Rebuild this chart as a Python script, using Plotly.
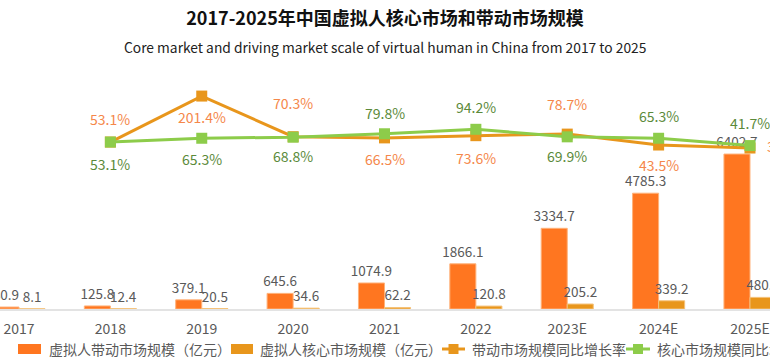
import plotly.graph_objects as go

# ---------------- data ----------------
categories = ["2017", "2018", "2019", "2020", "2021", "2022", "2023E", "2024E", "2025E"]
driving_market = [80.9, 125.8, 379.1, 645.6, 1074.9, 1866.1, 3334.7, 4785.3, 6402.7]
core_market = [8.1, 12.4, 20.5, 34.6, 62.2, 120.8, 205.2, 339.2, 480.6]
rate_categories = ["2018", "2019", "2020", "2021", "2022", "2023E", "2024E", "2025E"]
driving_growth = [53.1, 201.4, 70.3, 66.5, 73.6, 78.7, 43.5, 33.8]
core_growth = [53.1, 65.3, 68.8, 79.8, 94.2, 69.9, 65.3, 41.7]

series_names = ["虚拟人带动市场规模（亿元）", "虚拟人核心市场规模（亿元）",
                "带动市场规模同比增长率", "核心市场规模同比增长率"]
title_text = "2017-2025年中国虚拟人核心市场和带动市场规模"
subtitle_text = "Core market and driving market scale of virtual human in China from 2017 to 2025"

# label placement (pixel shifts) for growth-rate labels
driving_label_shift = [23, -21, 34, -21, -22, 30, -20, 0]
core_label_shift = [-22, -21, -19, 21, 22, -19, 22, 23]

# ---------------- style ----------------
FONT = "Noto Sans CJK SC"
C_DRIVE = "#FF7620"
C_CORE = "#E8961C"
C_LINE_O = "#E8961C"
C_LINE_G = "#8DCC4A"
C_LBL_O = "#F5874A"
C_LBL_G = "#5B8A3A"
C_TXT = "#595959"

W, H = 770, 360
ML, MR, MT, MB = 0, 0, 70, 51
plot_h = H - MT - MB

fig = go.Figure()

fig.add_trace(go.Bar(
    x=categories, y=driving_market, name=series_names[0],
    marker=dict(color=C_DRIVE, line=dict(color="#FFB27A", width=1)),
    text=[f"{v:.1f}" for v in driving_market], textposition="outside",
    constraintext="none",
    textfont=dict(family=FONT, size=13.5, color=C_TXT), cliponaxis=False,
    showlegend=False,
))
fig.add_trace(go.Bar(
    x=categories, y=core_market, name=series_names[1],
    marker=dict(color=C_CORE, line=dict(color="#F5C27A", width=1)),
    text=[f"{v:.1f}" for v in core_market], textposition="outside",
    constraintext="none",
    textfont=dict(family=FONT, size=13.5, color=C_TXT), cliponaxis=False,
    showlegend=False,
))
fig.add_trace(go.Scatter(
    x=rate_categories, y=driving_growth, yaxis="y2", mode="lines+markers",
    name=series_names[2],
    line=dict(color=C_LINE_O, width=3),
    marker=dict(symbol="square", size=11, color=C_LINE_O),
    cliponaxis=False, showlegend=False,
))
fig.add_trace(go.Scatter(
    x=rate_categories, y=core_growth, yaxis="y2", mode="lines+markers",
    name=series_names[3],
    line=dict(color=C_LINE_G, width=3),
    marker=dict(symbol="square", size=11, color=C_LINE_G),
    cliponaxis=False, showlegend=False,
))

annotations = []
for c, v, s in zip(rate_categories, driving_growth, driving_label_shift):
    xi = categories.index(c)
    if s == 0:
        annotations.append(dict(x=xi, y=v, xref="x", yref="y2", text=f"{v:.1f}%",
                                showarrow=False, xanchor="left", xshift=15, yshift=2,
                                font=dict(family=FONT, size=14, color=C_LBL_O)))
    else:
        annotations.append(dict(x=xi, y=v, xref="x", yref="y2", text=f"{v:.1f}%",
                                showarrow=False, yshift=s,
                                font=dict(family=FONT, size=14, color=C_LBL_O)))
for c, v, s in zip(rate_categories, core_growth, core_label_shift):
    xi = categories.index(c)
    annotations.append(dict(x=xi, y=v, xref="x", yref="y2", text=f"{v:.1f}%",
                            showarrow=False, yshift=s,
                            font=dict(family=FONT, size=14, color=C_LBL_G)))

def py(p):  # pixel y -> paper y
    return (H - MB - p) / plot_h

def px(p):
    return p / W

annotations.append(dict(x=0.5, y=py(47), xref="paper", yref="paper", text=subtitle_text,
                        showarrow=False, xanchor="center", yanchor="middle",
                        font=dict(family=FONT, size=13.8, color="#222222")))

# manual legend
shapes = []
ly = 349
legend_items = [
    ("rect", C_DRIVE, 18, 41, 47),
    ("rect", C_CORE, 231, 253, 258),
    ("line", C_LINE_O, 442, 465, 470),
    ("line", C_LINE_G, 626, 650, 655),
]
for (kind, col, x0, x1, tx), name in zip(legend_items, series_names):
    if kind == "rect":
        shapes.append(dict(type="rect", xref="paper", yref="paper",
                           x0=px(x0), x1=px(x1), y0=py(ly + 5), y1=py(ly - 5),
                           fillcolor=col, line=dict(width=0)))
    else:
        shapes.append(dict(type="line", xref="paper", yref="paper",
                           x0=px(x0), x1=px(x1), y0=py(ly), y1=py(ly),
                           line=dict(color=col, width=3)))
        xc = (x0 + x1) / 2
        shapes.append(dict(type="rect", xref="paper", yref="paper",
                           x0=px(xc - 5), x1=px(xc + 5), y0=py(ly + 5), y1=py(ly - 5),
                           fillcolor=col, line=dict(width=0)))
    annotations.append(dict(x=px(tx), y=py(ly), xref="paper", yref="paper", text=name,
                            showarrow=False, xanchor="left", yanchor="middle",
                            font=dict(family=FONT, size=14, color=C_TXT)))

fig.update_layout(
    width=W, height=H,
    margin=dict(l=ML, r=MR, t=MT, b=MB),
    paper_bgcolor="white", plot_bgcolor="white",
    barmode="group", bargap=0.43, bargroupgap=0,
    title=dict(text=f"<b>{title_text}</b>", x=0.5, xanchor="center",
               y=1 - 19 / H, yanchor="middle",
               font=dict(family=FONT, size=18, color="#111111")),
    xaxis=dict(type="category", categoryorder="array", categoryarray=categories,
               range=[-0.208, 8.219], showgrid=False, zeroline=False,
               showline=True, linecolor="#E3E3E3", linewidth=2,
               ticks="", ticklabelstandoff=6,
               tickfont=dict(family=FONT, size=14, color=C_TXT)),
    yaxis=dict(range=[0, plot_h / 0.0242], visible=False, showgrid=False),
    yaxis2=dict(overlaying="y", range=[-(H - MB - 158.5) / 0.31, (158.5 - MT) / 0.31],
                visible=False, showgrid=False),
    annotations=annotations,
    shapes=shapes,
    showlegend=False,
)

fig.write_html("out.html",
               config={"displayModeBar": False},
               post_script="document.body.style.margin='0';document.body.style.overflow='hidden';")
